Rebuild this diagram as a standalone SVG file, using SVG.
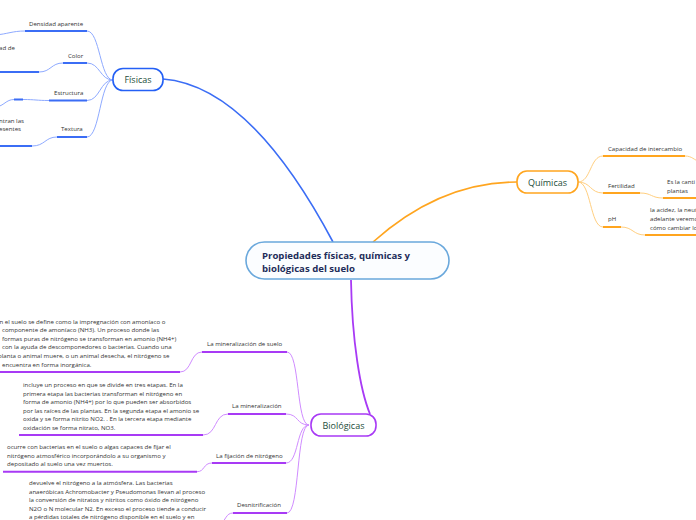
<svg xmlns="http://www.w3.org/2000/svg" width="696" height="520" viewBox="0 0 696 520">
<style>
.lbl{font-family:"Open Sans","Noto Sans","Liberation Sans",sans-serif;font-size:6.1px;fill:#333}
.desc{font-family:"Open Sans","Noto Sans","Liberation Sans",sans-serif;font-size:6.1px;fill:#333}
.node{font-family:"Open Sans","Noto Sans","Liberation Sans",sans-serif;font-size:9px;fill:#1d4d3a;text-anchor:middle}
.main{font-family:"Open Sans","Noto Sans","Liberation Sans",sans-serif;font-size:9.6px;font-weight:bold;fill:#1f2d5a}
.tb{fill:none;stroke:#8eaaff;stroke-width:1}
.ub{fill:none;stroke:#3b6df5;stroke-width:2}
.to{fill:none;stroke:#ffcf80;stroke-width:1}
.uo{fill:none;stroke:#ffa51f;stroke-width:2}
.tp{fill:none;stroke:#d08cff;stroke-width:1}
.up{fill:none;stroke:#a83af5;stroke-width:2}
</style>
<g id="connectors">
  <path d="M163,79 C240,85 300,180 333,242" fill="none" stroke="#3b6df5" stroke-width="1.6"/>
  <path d="M373,242 C420,200 470,182 517,182" fill="none" stroke="#ffa51f" stroke-width="1.6"/>
  <path d="M351,280 C352,340 360,390 370,414" fill="none" stroke="#a83af5" stroke-width="1.8"/>
  <path class="tb" d="M113,80 C100,80 100,31 87,31"/>
  <path class="tb" d="M113,80 C100,80 100,63 87,63"/>
  <path class="tb" d="M113,80 C100,80 100,100.5 87,100.5"/>
  <path class="tb" d="M113,80 C100,80 100,137 87,137"/>
  <path class="tb" d="M25,31 C12,31 8,34 -5,35"/>
  <path class="tb" d="M39,72 C51,72 51,63 63,63"/>
  <path class="tb" d="M49,100.5 C36,100.5 36,99.5 23,99.5"/>
  <path class="tb" d="M14,99.5 C6,99.5 4,106 -4,107"/>
  <path class="tb" d="M32,146 C45,146 45,137 57,137"/>
  <path class="to" d="M578,182 C591,182 590,156 603,156"/>
  <path class="to" d="M578,182 C591,182 590,193 603,193"/>
  <path class="to" d="M578,182 C591,182 590,227 603,227"/>
  <path class="to" d="M685,156 C692,156 694,160 700,162"/>
  <path class="to" d="M640,193 C652,193 651,198 663,198"/>
  <path class="to" d="M621,227 C633,227 633,235 645,235"/>
  <path class="tp" d="M309,425 C296,425 300,352 287,352"/>
  <path class="tp" d="M309,425 C296,425 299,414 286,414"/>
  <path class="tp" d="M309,425 C296,425 299,463 286,463"/>
  <path class="tp" d="M309,425 C296,425 300,513 287,513"/>
  <path class="tp" d="M202,352 C190,352 192,372 180,372"/>
  <path class="tp" d="M228,414 C214,414 217,435 203,435"/>
  <path class="tp" d="M212,463 C203,463 205,471.7 197,471.7"/>
  <path class="tp" d="M233,513 C226,513 226,520 220,525"/>
</g>
<g id="central">
  <rect x="246" y="242" width="203" height="37" rx="18.5" fill="#fbfdff" stroke="#6aa8dc" stroke-width="1.6"/>
  <text class="main" x="262" y="259">Propiedades físicas, químicas y</text>
  <text class="main" x="262" y="272">biológicas del suelo</text>
</g>
<g id="fisicas">
  <rect x="113" y="68.5" width="50" height="22" rx="10" fill="#fff" stroke="#2460f5" stroke-width="1.6"/>
  <text class="node" x="138" y="83">Físicas</text>
</g>
<g id="densidad">
  <line class="ub" x1="25" y1="31" x2="87" y2="31"/>
  <text class="lbl" x="29" y="26">Densidad aparente</text>
</g>
<g id="color">
  <line class="ub" x1="63" y1="63" x2="87" y2="63"/>
  <text class="lbl" x="68" y="58">Color</text>
</g>
<g id="color-desc">
  <line class="ub" x1="-2" y1="72" x2="39" y2="72"/>
  <text class="lbl" x="-1" y="50">ad de</text>
</g>
<g id="estructura">
  <line class="ub" x1="49" y1="100.5" x2="87" y2="100.5"/>
  <text class="lbl" x="54" y="95">Estructura</text>
</g>
<g id="estructura-desc">
  <line class="ub" x1="14" y1="99.5" x2="23" y2="99.5"/>
</g>
<g id="textura">
  <line class="ub" x1="57" y1="137" x2="87" y2="137"/>
  <text class="lbl" x="61" y="131">Textura</text>
</g>
<g id="textura-desc">
  <line class="ub" x1="-2" y1="146" x2="32" y2="146"/>
  <text class="lbl" x="-1" y="123">ntran las</text>
  <text class="lbl" x="-1" y="131">esentes</text>
</g>
<g id="quimicas">
  <rect x="517" y="171" width="61" height="22" rx="10" fill="#fff" stroke="#ffa51f" stroke-width="1.6"/>
  <text class="node" x="547.5" y="185.5">Químicas</text>
</g>
<g id="capacidad">
  <line class="uo" x1="603" y1="156" x2="685" y2="156"/>
  <text class="lbl" x="608" y="151">Capacidad de intercambio</text>
</g>
<g id="fertilidad">
  <line class="uo" x1="603" y1="193" x2="640" y2="193"/>
  <text class="lbl" x="608" y="188">Fertilidad</text>
</g>
<g id="fertilidad-desc">
  <line class="uo" x1="663" y1="198" x2="698" y2="198"/>
  <text class="lbl" x="667" y="184">Es la canti</text>
  <text class="lbl" x="667" y="193">plantas</text>
</g>
<g id="ph">
  <line class="uo" x1="603" y1="227" x2="621" y2="227"/>
  <text class="lbl" x="608" y="221">pH</text>
</g>
<g id="ph-desc">
  <line class="uo" x1="645" y1="235" x2="698" y2="235"/>
  <text class="lbl" x="650" y="212">la acidez, la neut</text>
  <text class="lbl" x="650" y="221">adelante veremo</text>
  <text class="lbl" x="650" y="230">cómo cambiar lo</text>
</g>
<g id="biologicas">
  <rect x="311" y="414" width="65" height="22" rx="10" fill="#fff" stroke="#a83af5" stroke-width="1.6"/>
  <text class="node" x="343.5" y="428.5">Biológicas</text>
</g>
<g id="mineralizacion-suelo">
  <line class="up" x1="202" y1="352" x2="287" y2="352"/>
  <text class="lbl" x="207" y="346">La mineralización de suelo</text>
</g>
<g id="mineralizacion-suelo-desc">
  <line class="up" x1="-2" y1="372" x2="180" y2="372"/>
  <text class="desc" x="-4" y="323.5">en el suelo se define como la impregnación con amoníaco o</text>
  <text class="desc" x="2" y="332">componente de amoníaco (NH3). Un proceso donde las</text>
  <text class="desc" x="2" y="340.5">formas puras de nitrógeno se transforman en amonio (NH4+)</text>
  <text class="desc" x="2" y="349">con la ayuda de descomponedores o bacterias. Cuando una</text>
  <text class="desc" x="-2" y="357.5">planta o animal muere, o un animal desecha, el nitrógeno se</text>
  <text class="desc" x="2" y="366.5">encuentra en forma inorgánica.</text>
</g>
<g id="mineralizacion">
  <line class="up" x1="228" y1="414" x2="286" y2="414"/>
  <text class="lbl" x="232" y="408">La mineralización</text>
</g>
<g id="mineralizacion-desc">
  <line class="up" x1="19" y1="435" x2="203" y2="435"/>
  <text class="desc" x="23" y="387">incluye un proceso en que se  divide en tres etapas. En la</text>
  <text class="desc" x="23" y="395.5">primera etapa las bacterias transforman el nitrógeno en</text>
  <text class="desc" x="23" y="404">forma de amonio (NH4+) por lo que pueden ser absorbidos</text>
  <text class="desc" x="23" y="412.5">por las raíces de las plantas. En la segunda etapa el amonio se</text>
  <text class="desc" x="23" y="421">oxida y se forma nitrito NO2. . En la tercera etapa mediante</text>
  <text class="desc" x="23" y="429.5">oxidación se forma nitrato, NO3.</text>
</g>
<g id="fijacion">
  <line class="up" x1="212" y1="463" x2="286" y2="463"/>
  <text class="lbl" x="216" y="458">La fijación de nitrógeno</text>
</g>
<g id="fijacion-desc">
  <line class="up" x1="3" y1="471.7" x2="197" y2="471.7"/>
  <text class="desc" x="7" y="449">ocurre con bacterias en el suelo o algas capaces de fijar el</text>
  <text class="desc" x="7" y="457.5">nitrógeno atmosférico incorporándolo a su organismo y</text>
  <text class="desc" x="7" y="466">depositado al suelo una vez muertos.</text>
</g>
<g id="desnitrificacion">
  <line class="up" x1="233" y1="513" x2="287" y2="513"/>
  <text class="lbl" x="237" y="507">Desnitrificación</text>
</g>
<g id="desnitrificacion-desc">
  <text class="desc" x="29" y="485">devuelve el nitrógeno a la atmósfera. Las bacterias</text>
  <text class="desc" x="29" y="493.5">anaeróbicas Achromobacter y Pseudomonas llevan al proceso</text>
  <text class="desc" x="29" y="502">la conversión de nitratos y nitritos  como óxido de nitrógeno</text>
  <text class="desc" x="29" y="510.5">N2O o N molecular N2. En exceso el proceso tiende a conducir</text>
  <text class="desc" x="29" y="519">a pérdidas totales de nitrógeno disponible en el suelo y en</text>
</g>
</svg>
